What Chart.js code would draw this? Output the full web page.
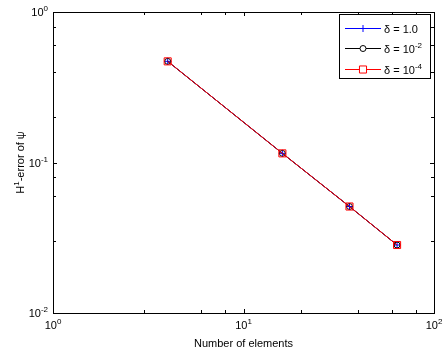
<!DOCTYPE html>
<html>
<head>
<meta charset="utf-8">
<script src="https://cdn.jsdelivr.net/npm/chart.js@4/dist/chart.umd.min.js"></script>
<style>
  html, body { margin:0; padding:0; background:#fff; }
  #wrap { width:443px; height:358px; }
</style>
</head>
<body>
<div id="wrap"><canvas id="chart" width="443" height="358"></canvas></div>
<script>
// data
const elements = [4, 16, 36, 64];
const errDelta1 = [0.47, 0.115, 0.051, 0.0283];
const errDelta2 = [0.47, 0.115, 0.051, 0.0283];
const errDelta4 = [0.47, 0.115, 0.051, 0.0283];
const seriesLabels = [['1.0', ''], ['10', '-2'], ['10', '-4']];
const xTickExp = [0, 1, 2];
const yTickExp = [0, -1, -2];

const FONT = 'Liberation Sans, Arial, Helvetica, sans-serif';

const pts = ys => elements.map((x, i) => ({x: x, y: ys[i]}));

// text like 10^-2 with a raised exponent
function supText(ctx, base, exp, x, y, align, size) {
  ctx.font = size + 'px ' + FONT;
  const wb = ctx.measureText(base).width;
  ctx.font = Math.round(size * 0.72) + 'px ' + FONT;
  const we = exp ? ctx.measureText(exp).width : 0;
  const total = wb + we;
  let x0 = x;
  if (align === 'right') x0 = x - total;
  else if (align === 'center') x0 = x - total / 2;
  ctx.textAlign = 'left';
  ctx.textBaseline = 'alphabetic';
  ctx.font = size + 'px ' + FONT;
  ctx.fillText(base, x0, y);
  if (exp) {
    ctx.font = Math.round(size * 0.72) + 'px ' + FONT;
    ctx.fillText(exp, x0 + wb, y - size * 0.45);
  }
  return total;
}

const matlabAxes = {
  id: 'matlabAxes',
  afterDraw(chart) {
    const ctx = chart.ctx;
    const a = chart.chartArea;
    const xs = chart.scales.x, ys = chart.scales.y;
    ctx.save();
    ctx.strokeStyle = '#000';
    ctx.fillStyle = '#000';
    ctx.lineWidth = 1;

    // box
    ctx.strokeRect(Math.round(a.left) + 0.5, Math.round(a.top) + 0.5,
      Math.round(a.right - a.left), Math.round(a.bottom - a.top));

    // ticks on all sides
    const isMajor = v => Math.abs(Math.log10(v) - Math.round(Math.log10(v))) < 1e-9;
    ctx.beginPath();
    xs.ticks.forEach(t => {
      const px = Math.round(xs.getPixelForValue(t.value)) + 0.5;
      const len = isMajor(t.value) ? 4 : 3;
      ctx.moveTo(px, a.bottom); ctx.lineTo(px, a.bottom - len);
      ctx.moveTo(px, a.top); ctx.lineTo(px, a.top + len);
    });
    ys.ticks.forEach(t => {
      const py = Math.round(ys.getPixelForValue(t.value)) + 0.5;
      const len = isMajor(t.value) ? 4 : 3;
      ctx.moveTo(a.left, py); ctx.lineTo(a.left + len, py);
      ctx.moveTo(a.right, py); ctx.lineTo(a.right - len, py);
    });
    ctx.stroke();

    // tick labels
    xTickExp.forEach(e => {
      const px = xs.getPixelForValue(Math.pow(10, e));
      supText(ctx, '10', String(e), px, a.bottom + 16, 'center', 11);
    });
    yTickExp.forEach(e => {
      const py = ys.getPixelForValue(Math.pow(10, e));
      supText(ctx, '10', String(e), a.left - 5, py + 4, 'right', 11);
    });

    // axis titles
    ctx.font = '11px ' + FONT;
    ctx.textAlign = 'center';
    ctx.textBaseline = 'alphabetic';
    ctx.fillText('Number of elements', (a.left + a.right) / 2, a.bottom + 34);
    ctx.save();
    ctx.translate(24, (a.top + a.bottom) / 2);
    ctx.rotate(-Math.PI / 2);
    ctx.font = '11px ' + FONT;
    const w1 = ctx.measureText('H').width;
    ctx.font = '8px ' + FONT;
    const w2 = ctx.measureText('1').width;
    ctx.font = '11px ' + FONT;
    const w3 = ctx.measureText('-error of \u03c8').width;
    let sx = -(w1 + w2 + w3) / 2;
    ctx.textAlign = 'left';
    ctx.fillText('H', sx, 0);
    ctx.font = '8px ' + FONT;
    ctx.fillText('1', sx + w1, -5);
    ctx.font = '11px ' + FONT;
    ctx.fillText('-error of \u03c8', sx + w1 + w2, 0);
    ctx.restore();

    // legend
    const lx = 339, ly = 14, lw = 91, lh = 64;
    ctx.fillStyle = '#fff';
    ctx.fillRect(lx, ly, lw, lh);
    ctx.strokeStyle = '#000';
    ctx.strokeRect(lx + 0.5, ly + 0.5, lw, lh);
    chart.data.datasets.forEach((ds, i) => {
      const y = Math.round(ly + 13.5 + i * 20.5) + 0.5;
      ctx.strokeStyle = ds.borderColor;
      ctx.lineWidth = 1;
      ctx.beginPath();
      ctx.moveTo(345, y);
      ctx.lineTo(381, y);
      ctx.stroke();
      ctx.fillStyle = '#fff';
      Chart.helpers.drawPoint(ctx, {
        pointStyle: ds.pointStyle, radius: ds.pointRadius, borderWidth: 1
      }, 363, y);
      ctx.fillStyle = '#000';
      const lbl = seriesLabels[i];
      ctx.font = '11px ' + FONT;
      ctx.textAlign = 'left';
      ctx.fillText('\u03b4 = ', 384, y + 4);
      const wd = ctx.measureText('\u03b4 = ').width;
      supText(ctx, lbl[0], lbl[1], 384 + wd, y + 4, 'left', 11);
    });
    ctx.restore();
  }
};

new Chart(document.getElementById('chart'), {
  type: 'line',
  data: {
    datasets: [
      { data: pts(errDelta1), borderColor: '#0000ff', pointBorderColor: '#0000ff',
        pointStyle: 'cross', pointRadius: 3.5, order: 3 },
      { data: pts(errDelta2), borderColor: '#000000', pointBorderColor: '#000000',
        pointStyle: 'circle', pointRadius: 3, order: 2 },
      { data: pts(errDelta4), borderColor: '#ff0000', pointBorderColor: '#ff0000',
        pointStyle: 'rect', pointRadius: 5, order: 1 }
    ].map(d => Object.assign({
      borderWidth: 1, pointBorderWidth: 1, pointBackgroundColor: 'rgba(0,0,0,0)',
      fill: false, tension: 0, clip: false
    }, d))
  },
  options: {
    responsive: false,
    animation: false,
    devicePixelRatio: 1,
    layout: { padding: { left: 53, top: 12, right: 9, bottom: 45 } },
    plugins: { legend: { display: false }, tooltip: { enabled: false } },
    scales: {
      x: { type: 'logarithmic', min: 1, max: 100, display: false },
      y: { type: 'logarithmic', min: 0.01, max: 1, display: false }
    }
  },
  plugins: [matlabAxes]
});
</script>
</body>
</html>
